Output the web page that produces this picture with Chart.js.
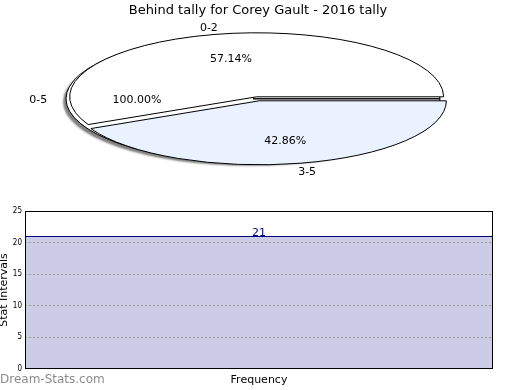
<!DOCTYPE html>
<html><head><meta charset="utf-8">
<script src="https://cdn.jsdelivr.net/npm/chart.js@4"></script>
<style>
html,body{margin:0;padding:0;background:#fff;}
#wrap{position:relative;width:520px;height:390px;overflow:hidden;}
canvas{position:absolute;left:0;}
#pieBack,#pieFront{top:0;}
#bar{top:190px;}
</style></head><body>
<div id="wrap"><canvas id="bar" width="520" height="200"></canvas><canvas id="pieBack" width="520" height="200"></canvas><canvas id="pieFront" width="520" height="200"></canvas></div>
<script>
const pieTitle = 'Behind tally for Corey Gault - 2016 tally';
const pieLabels = ['0-2', '3-5'];
const pieValues = [12, 9];
const pieShares = ['57.14%', '42.86%'];
const pieColors = ['#ffffff', '#ebf2ff'];
const totalLabels = ['0-5'];
const totalValues = [21];
const totalShares = ['100.00%'];

const barCategories = ['Frequency'];
const barValues = [21];
const yTicks = [0, 5, 10, 15, 20, 25];

Chart.defaults.font.family = 'DejaVu Sans';
const R = 187;          // pie radius (px)
const K = 64 / 187;     // ellipse squash

const ellipse = {
  id: 'ellipse',
  beforeDatasetsDraw(chart, args, opts) {
    const ctx = chart.ctx;
    const meta = chart.getDatasetMeta(0);
    const a = meta.data[0];
    const E = opts.explode;
    meta.data.forEach(el => {
      if (el.$wrapped) return;
      const base = el.draw;
      el.draw = function (c) {
        const h = (this.startAngle + this.endAngle) / 2;
        c.save(); c.translate(Math.cos(h) * E, Math.sin(h) * E);
        base.call(this, c);
        c.restore();
      };
      el.$wrapped = true;
    });
    ctx.save();
    ctx.translate(a.x, a.y); ctx.scale(1, K); ctx.translate(-a.x, -a.y);
    if (opts.shadow) {
      ctx.shadowColor = 'rgba(0,0,0,0.5)';
      ctx.shadowOffsetX = -3; ctx.shadowOffsetY = 3; ctx.shadowBlur = 2;
    }
    const orig = CanvasRenderingContext2D.prototype.stroke;
    ctx.stroke = function () {
      this.save(); this.setTransform(1, 0, 0, 1, 0, 0);
      this.shadowColor = 'rgba(0,0,0,0)';
      orig.apply(this, arguments); this.restore();
    };
  },
  afterDatasetsDraw(chart) {
    const ctx = chart.ctx;
    delete ctx.stroke;
    ctx.restore();
  },
  afterDraw(chart, args, opts) {
    if (!opts.drawLabels) return;
    const ctx = chart.ctx;
    ctx.save();
    ctx.font = '11px "DejaVu Sans"';
    ctx.fillStyle = '#000';
    ctx.textAlign = 'center';
    ctx.textBaseline = 'middle';
    opts.sources().forEach(src => {
      const o = src.options.plugins.ellipse;
      const E = o.explode;
      src.getDatasetMeta(0).data.forEach((arc, i) => {
        const mid = (arc.startAngle + arc.endAngle) / 2;
        const c = Math.cos(mid), s = Math.sin(mid);
        const cx = arc.x + c * E, cy = arc.y + s * E * K + 1.5;
        ctx.fillText(o.shares[i], cx + c * R * 0.62, cy + s * R * 0.62 * K);
        const hw = ctx.measureText(o.labels[i]).width / 2;
        ctx.fillText(o.labels[i], cx + c * (R * 1.12 + hw * 0.6), cy + s * R * 1.12 * K);
      });
    });
    ctx.restore();
  }
};

function pieOptions(rotation, ell, titleColor) {
  return {
    responsive: false, animation: false, events: [],
    rotation: rotation,
    layout: { padding: { left: 0, right: 4, top: 0, bottom: 22 } },
    plugins: {
      legend: { display: false }, tooltip: { enabled: false },
      title: { display: true, text: pieTitle, color: titleColor, font: { size: 13, weight: 'normal' }, padding: { top: 3, bottom: 1 } },
      ellipse: ell
    }
  };
}

// the 0-5 slice: the whole tally (100%), exploded to the left, drawn behind
const backChart = new Chart(document.getElementById('pieBack'), {
  type: 'pie',
  data: { labels: totalLabels, datasets: [{ data: totalValues, backgroundColor: '#ffffff', borderColor: '#000', borderWidth: 1, radius: R, clip: false }] },
  options: pieOptions(90, { explode: 5, shadow: true, labels: totalLabels, shares: totalShares, drawLabels: false }, 'rgba(0,0,0,0)'),
  plugins: [ellipse]
});

const total = pieValues.reduce((a, b) => a + b, 0);
new Chart(document.getElementById('pieFront'), {
  type: 'pie',
  data: { labels: pieLabels, datasets: [{ data: pieValues, backgroundColor: pieColors, borderColor: '#000', borderWidth: 1, radius: R, clip: false }] },
  options: pieOptions(90 - 360 * pieValues[0] / total,
    { explode: 6, shadow: false, labels: pieLabels, shares: pieShares, drawLabels: true,
      sources: () => [backChart, Chart.getChart('pieFront')] }, '#000'),
  plugins: [ellipse]
});

const barExtras = {
  id: 'barExtras',
  afterDraw(chart) {
    const ctx = chart.ctx, a = chart.chartArea;
    ctx.save();
    ctx.strokeStyle = '#000'; ctx.lineWidth = 1;
    ctx.strokeRect(Math.round(a.left) + 0.5, Math.round(a.top) + 0.5, Math.round(a.right - a.left) - 1, Math.round(a.bottom - a.top) - 1);
    const meta = chart.getDatasetMeta(0);
    ctx.font = '11px "DejaVu Sans"'; ctx.fillStyle = '#000080';
    ctx.textAlign = 'center'; ctx.textBaseline = 'alphabetic';
    meta.data.forEach((b, i) => ctx.fillText(String(barValues[i]), b.x, b.y));
    ctx.font = '12px "DejaVu Sans"'; ctx.fillStyle = '#8c8c8c';
    ctx.textAlign = 'left'; ctx.textBaseline = 'middle';
    ctx.fillText('Dream-Stats.com', 0, 190);
    ctx.restore();
  }
};

new Chart(document.getElementById('bar'), {
  type: 'bar',
  data: { labels: barCategories, datasets: [{ data: barValues, backgroundColor: '#ccccE6', borderColor: '#000080', borderWidth: { top: 1, right: 0, bottom: 0, left: 0 }, borderSkipped: false, barPercentage: 1, categoryPercentage: 1 }] },
  options: {
    responsive: false, animation: false, events: [],
    layout: { padding: { left: 0, right: 27, top: 21, bottom: 0 } },
    plugins: { legend: { display: false }, tooltip: { enabled: false } },
    scales: {
      x: {
        grid: { display: false, drawTicks: false }, border: { display: false },
        ticks: { color: '#000', font: { size: 11 }, padding: 5 },
        afterFit(s) { s.height = 21; }
      },
      y: {
        min: 0, max: 25,
        afterBuildTicks(s) { s.ticks = yTicks.map(v => ({ value: v })); },
        ticks: { color: '#000', font: { family: 'DejaVu Sans Condensed', size: 8 }, padding: 3 },
        grid: { drawTicks: false, z: 1, color: c => (c.tick && (c.tick.value === 0 || c.tick.value === 25)) ? 'rgba(0,0,0,0)' : '#9a9a9a' },
        border: { display: false, dash: [2, 2] },
        title: { display: true, text: 'Stat Intervals', color: '#000', font: { size: 11, lineHeight: 1 }, padding: { top: -1, bottom: 0 } },
        afterFit(s) { s.width = 25; }
      }
    }
  },
  plugins: [barExtras]
});
</script>
</body></html>
